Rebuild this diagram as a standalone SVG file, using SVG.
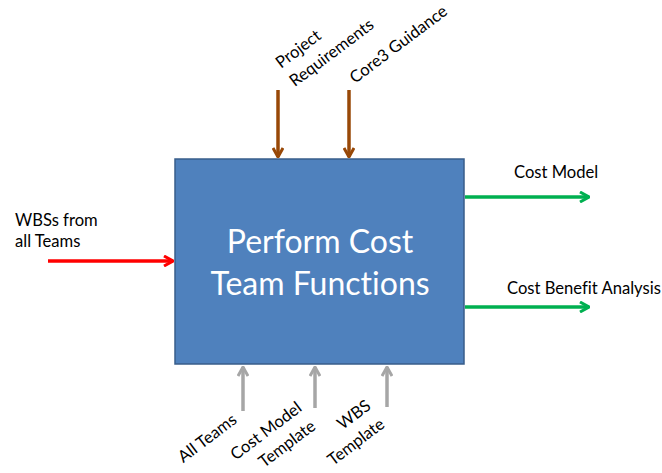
<svg xmlns="http://www.w3.org/2000/svg" width="662" height="473" viewBox="0 0 662 473">
<style>
.lbl{font-family:Lato,"Liberation Sans",Arial,sans-serif;font-size:16.6px;fill:#000;font-variant-ligatures:none}
.main{font-family:Lato,"Liberation Sans",Arial,sans-serif;font-size:32px;fill:#fff;font-variant-ligatures:none}
.c{stroke-width:3.5;fill:none}
</style>
<defs>
<marker id="mb" viewBox="0 0 12 12" refX="11" refY="6" markerWidth="12" markerHeight="12" markerUnits="userSpaceOnUse" orient="auto"><path d="M2,1 L11,6 L2,11" fill="none" stroke="#984807" stroke-width="3"/></marker>
<marker id="mr" viewBox="0 0 12 12" refX="11" refY="6" markerWidth="12" markerHeight="12" markerUnits="userSpaceOnUse" orient="auto"><path d="M2,1 L11,6 L2,11" fill="none" stroke="#FF0000" stroke-width="3"/></marker>
<marker id="mg" viewBox="0 0 12 12" refX="11" refY="6" markerWidth="12" markerHeight="12" markerUnits="userSpaceOnUse" orient="auto"><path d="M2,1 L11,6 L2,11" fill="none" stroke="#00B050" stroke-width="3"/></marker>
<marker id="my" viewBox="0 0 12 12" refX="11" refY="6" markerWidth="12" markerHeight="12" markerUnits="userSpaceOnUse" orient="auto"><path d="M2,1 L11,6 L2,11" fill="none" stroke="#A6A6A6" stroke-width="3"/></marker>
</defs>
<rect width="662" height="473" fill="#fff"/>
<g id="process">
<rect x="175" y="159" width="289" height="205" fill="#4F81BD" stroke="#385D8A" stroke-width="1.5"/>
<text class="main" x="320" y="253" text-anchor="middle">Perform Cost</text>
<text class="main" x="320" y="295" text-anchor="middle">Team Functions</text>
</g>
<g id="connectors">
<line class="c" x1="278" y1="90" x2="278" y2="157" stroke="#984807" marker-end="url(#mb)"/>
<line class="c" x1="349" y1="90" x2="349" y2="157" stroke="#984807" marker-end="url(#mb)"/>
<line class="c" x1="48" y1="261" x2="173" y2="261" stroke="#FF0000" marker-end="url(#mr)"/>
<line class="c" x1="465" y1="197" x2="589" y2="197" stroke="#00B050" marker-end="url(#mg)"/>
<line class="c" x1="465" y1="307" x2="589" y2="307" stroke="#00B050" marker-end="url(#mg)"/>
<line class="c" x1="243" y1="411" x2="243" y2="367" stroke="#A6A6A6" marker-end="url(#my)"/>
<line class="c" x1="315" y1="408" x2="315" y2="367" stroke="#A6A6A6" marker-end="url(#my)"/>
<line class="c" x1="387" y1="407" x2="387" y2="367" stroke="#A6A6A6" marker-end="url(#my)"/>
</g>
<g id="label-project-requirements">
<text class="lbl" transform="translate(281,69) rotate(-37)"><tspan x="0" y="0">Project</tspan><tspan x="0" y="23">Requirements</tspan></text>
</g>
<g id="label-core3">
<text class="lbl" transform="translate(355,84) rotate(-37)">Core3 Guidance</text>
</g>
<g id="label-wbss">
<text class="lbl" x="15" y="226">WBSs from</text>
<text class="lbl" x="15" y="247">all Teams</text>
</g>
<g id="label-cost-model">
<text class="lbl" x="514" y="178">Cost Model</text>
</g>
<g id="label-cba">
<text class="lbl" x="507" y="294">Cost Benefit Analysis</text>
</g>
<g id="label-all-teams">
<text class="lbl" text-anchor="end" transform="translate(238,422) rotate(-37)">All Teams</text>
</g>
<g id="label-cost-model-template">
<text class="lbl" text-anchor="end" transform="translate(303,410) rotate(-37)"><tspan x="0" y="0">Cost Model</tspan><tspan x="0" y="23">Template</tspan></text>
</g>
<g id="label-wbs-template">
<text class="lbl" text-anchor="end" transform="translate(372,408) rotate(-37)"><tspan x="0" y="0">WBS</tspan><tspan x="0" y="23">Template</tspan></text>
</g>
</svg>
